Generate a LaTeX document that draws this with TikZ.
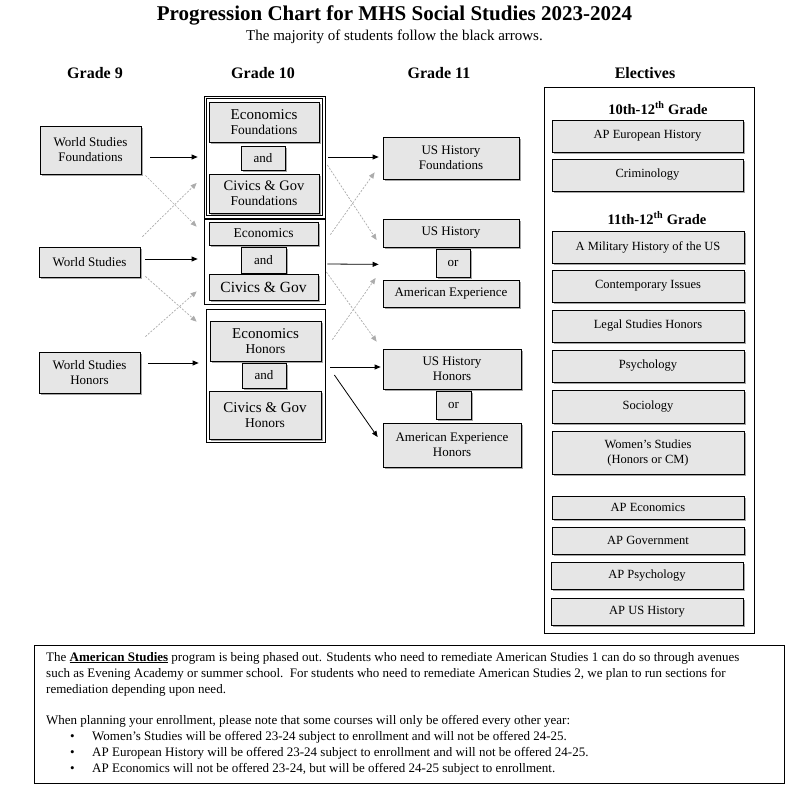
\documentclass[tikz,border=0pt]{standalone}
\usepackage{fontspec}
\setmainfont{Liberation Serif}
\usetikzlibrary{arrows.meta,shadows,calc}
\definecolor{boxfill}{RGB}{230,230,230}
\definecolor{arrgray}{RGB}{172,172,172}
\newcommand{\fsz}[1]{\fontsize{#1}{15}\selectfont}
\begin{document}
\begin{tikzpicture}[x=1pt,y=-1pt,
  cbox/.style={draw, fill=boxfill, line width=0.75pt, inner sep=0pt, align=center,
    drop shadow={shadow xshift=1.8pt, shadow yshift=-1.8pt, opacity=0.35, fill=black}},
  grp/.style={draw, line width=0.75pt, inner sep=0pt},
  hdr/.style={font=\bfseries\fsz{16}, inner sep=0pt},
  blk/.style={-{Triangle[length=6pt,width=5pt]}, line width=0.8pt, black},
  gry/.style={-{Triangle[length=6pt,width=5pt]}, line width=0.7pt, color=arrgray, dash pattern=on 2pt off 1.5pt},
  ntxt/.style={anchor=base west, inner sep=0pt, font=\fsz{13}}]
\useasboundingbox[fill=white] (0,0) rectangle (790,798);

% titles
\node[font=\bfseries\fsz{21}, inner sep=0pt] (title) at (394.5,15) {Progression Chart for MHS Social Studies 2023-2024};
\node[font=\fsz{15}, inner sep=0pt] (sub) at (394.5,37) {The majority of students follow the black arrows.};
\node[hdr] (h9) at (95,73) {Grade 9};
\node[hdr] (h10) at (263,73) {Grade 10};
\node[hdr] (h11) at (439,73) {Grade 11};
\node[hdr] (hel) at (645,73) {Electives};

% grade 9
\node[cbox, minimum width=101, minimum height=48, font=\fsz{13}] (wsf) at (90.5,150) {World Studies\\Foundations};
\node[cbox, minimum width=101, minimum height=30, font=\fsz{13}] (ws) at (89.5,262) {World Studies};
\node[cbox, minimum width=101, minimum height=41, font=\fsz{13}] (wsh) at (89.5,372.5) {World Studies\\Honors};

% grade 10 groups
\node[grp, minimum width=121, minimum height=122] (g1) at (264.5,157) {};
\node[grp, minimum width=116.6, minimum height=117.6] (g1i) at (264.5,157) {};
\node[grp, minimum width=121, minimum height=85] (g2) at (264.5,261.5) {};
\node[grp, minimum width=119, minimum height=133] (g3) at (265.5,375.5) {};

\node[cbox, minimum width=110, minimum height=40, font=\fsz{13.5}] (e1) at (264,122) {{\fsz{15}Economics}\\Foundations};
\node[cbox, minimum width=44, minimum height=24, font=\fsz{13}] (and1) at (263,158) {and};
\node[cbox, minimum width=110, minimum height=39, font=\fsz{13.5}] (c1) at (264,193.5) {{\fsz{14.5}Civics \& Gov}\\Foundations};

\node[cbox, minimum width=109, minimum height=23, font=\fsz{13.5}] (e2) at (263.5,233.5) {Economics};
\node[cbox, minimum width=45, minimum height=26, font=\fsz{13}] (and2) at (263.5,260) {and};
\node[cbox, minimum width=109, minimum height=26, font=\fsz{15.5}] (c2) at (263.5,287) {Civics \& Gov};

\node[cbox, minimum width=111, minimum height=40, font=\fsz{13.5}] (e3) at (265.5,341) {{\fsz{15}Economics}\\Honors};
\node[cbox, minimum width=44, minimum height=25, font=\fsz{13}] (and3) at (264,375.5) {and};
\node[cbox, minimum width=112, minimum height=48, font=\fsz{13.5}] (c3) at (265,415) {{\fsz{15}Civics \& Gov}\\Honors};

% grade 11
\node[cbox, minimum width=136, minimum height=42, font=\fsz{13}] (ushf) at (451,158) {US History\\Foundations};
\node[cbox, minimum width=136, minimum height=28, font=\fsz{13}] (ush) at (451,233) {US History};
\node[cbox, minimum width=34, minimum height=28, font=\fsz{13}] (or1) at (453,263) {or};
\node[cbox, minimum width=136, minimum height=27, font=\fsz{13}] (ae) at (451,293.5) {American Experience};
\node[cbox, minimum width=138, minimum height=40, font=\fsz{13}] (ushh) at (452,369) {US History\\Honors};
\node[cbox, minimum width=35, minimum height=28, font=\fsz{13}] (or2) at (453.5,405) {or};
\node[cbox, minimum width=138, minimum height=44, font=\fsz{13}] (aeh) at (452,445) {American Experience\\Honors};

% electives
\node[grp, minimum width=210, minimum height=546] (elect) at (649,360) {};
\node[font=\bfseries\fsz{14.5}, inner sep=0pt] (t1012) at (658,108) {10th-12\textsuperscript{th} Grade};
\node[font=\bfseries\fsz{14.5}, inner sep=0pt] (t1112) at (657,218) {11th-12\textsuperscript{th} Grade};
\node[cbox, minimum width=191, minimum height=32, font=\fsz{12.5}] (apeh) at (647.5,136) {AP European History};
\node[cbox, minimum width=191, minimum height=32, font=\fsz{12.5}] (crim) at (647.5,175) {Criminology};
\node[cbox, minimum width=192, minimum height=32, font=\fsz{12.5}] (mil) at (648,247) {A Military History of the US};
\node[cbox, minimum width=192, minimum height=32, font=\fsz{12.5}] (cont) at (648,286) {Contemporary Issues};
\node[cbox, minimum width=192, minimum height=32, font=\fsz{12.5}] (legal) at (648,326) {Legal Studies Honors};
\node[cbox, minimum width=192, minimum height=32, font=\fsz{12.5}] (psych) at (648,366) {Psychology};
\node[cbox, minimum width=192, minimum height=33, font=\fsz{12.5}] (soc) at (648,406.5) {Sociology};
\node[cbox, minimum width=192, minimum height=43, font=\fsz{12.5}] (women) at (648,452.5) {Women’s Studies\\(Honors or CM)};
\node[cbox, minimum width=192, minimum height=23, font=\fsz{12.5}] (apecon) at (648,507.5) {AP Economics};
\node[cbox, minimum width=192, minimum height=27, font=\fsz{12.5}] (apgov) at (648,540.5) {AP Government};
\node[cbox, minimum width=192, minimum height=27, font=\fsz{12.5}] (appsy) at (647,575.5) {AP Psychology};
\node[cbox, minimum width=192, minimum height=27, font=\fsz{12.5}] (apush) at (647,611.5) {AP US History};

% black arrows
\draw[blk] ($(wsf.east)+(9,7)$) -- ($(g1.west)+(-6,0)$);
\draw[blk] ($(ws.east)+(5,-3)$) -- ($(g2.west)+(-6,-2.5)$);
\draw[blk] ($(wsh.east)+(8,-9.5)$) -- ($(g3.west)+(-7,-12.5)$);
\draw[blk] ($(g1.east)+(3,0)$) -- ($(ushf.west)+(-4,-1)$);
\draw[blk] ($(g2.east)+(2,2.5)$) -- ($(ush.south west)+(-4,17)$);
\draw[blk] ($(g3.east)+(5,-8.5)$) -- ($(ushh.west)+(-2,-2)$);
\draw[blk] ($(g3.east)+(9,-0.5)$) -- ($(aeh.west)+(-5,-8)$);

% gray dashed arrows
\draw[gry] ($(wsf.south east)+(4,1)$) -- ($(g2.north west)+(-7,8)$);
\draw[gry] ($(ws.north east)+(2,-10)$) -- ($(g1.west)+(-7,26)$);
\draw[gry] ($(ws.south east)+(5,-1)$) -- ($(g3.north west)+(-9,13)$);
\draw[gry] ($(wsh.north east)+(5,-15)$) -- ($(g2.south west)+(-7,-13)$);
\draw[gry] ($(g1.east)+(2,8)$) -- ($(ush.west)+(-6,7)$);
\draw[gry] ($(g2.north east)+(5,16)$) -- ($(ushf.south west)+(-8,-7)$);
\draw[gry] ($(g2.east)+(1,10.5)$) -- ($(ushh.north west)+(-6,-7)$);
\draw[gry] ($(g3.north east)+(7,31)$) -- ($(ae.west)+(-7,-15.5)$);

% notes box
\node[grp, minimum width=750, minimum height=138] (note) at (409,714) {};
\node[ntxt] (n1) at (46,661) {The \underline{\textbf{American Studies}} program is being phased out. Students who need to remediate American Studies 1 can do so through avenues};
\node[ntxt] (n2) at (46,677) {such as Evening Academy or summer school.\ \ For students who need to remediate American Studies 2, we plan to run sections for};
\node[ntxt] (n3) at (46,693) {remediation depending upon need.};
\node[ntxt] (n4) at (46,724) {When planning your enrollment, please note that some courses will only be offered every other year:};
\node[ntxt] (b1) at (70,740) {\textbullet};
\node[ntxt] (n5) at (92,740) {Women’s Studies will be offered 23-24 subject to enrollment and will not be offered 24-25.};
\node[ntxt] (b2) at (70,756) {\textbullet};
\node[ntxt] (n6) at (92,756) {AP European History will be offered 23-24 subject to enrollment and will not be offered 24-25.};
\node[ntxt] (b3) at (70,772) {\textbullet};
\node[ntxt] (n7) at (92,772) {AP Economics will not be offered 23-24, but will be offered 24-25 subject to enrollment.};
\end{tikzpicture}
\end{document}
